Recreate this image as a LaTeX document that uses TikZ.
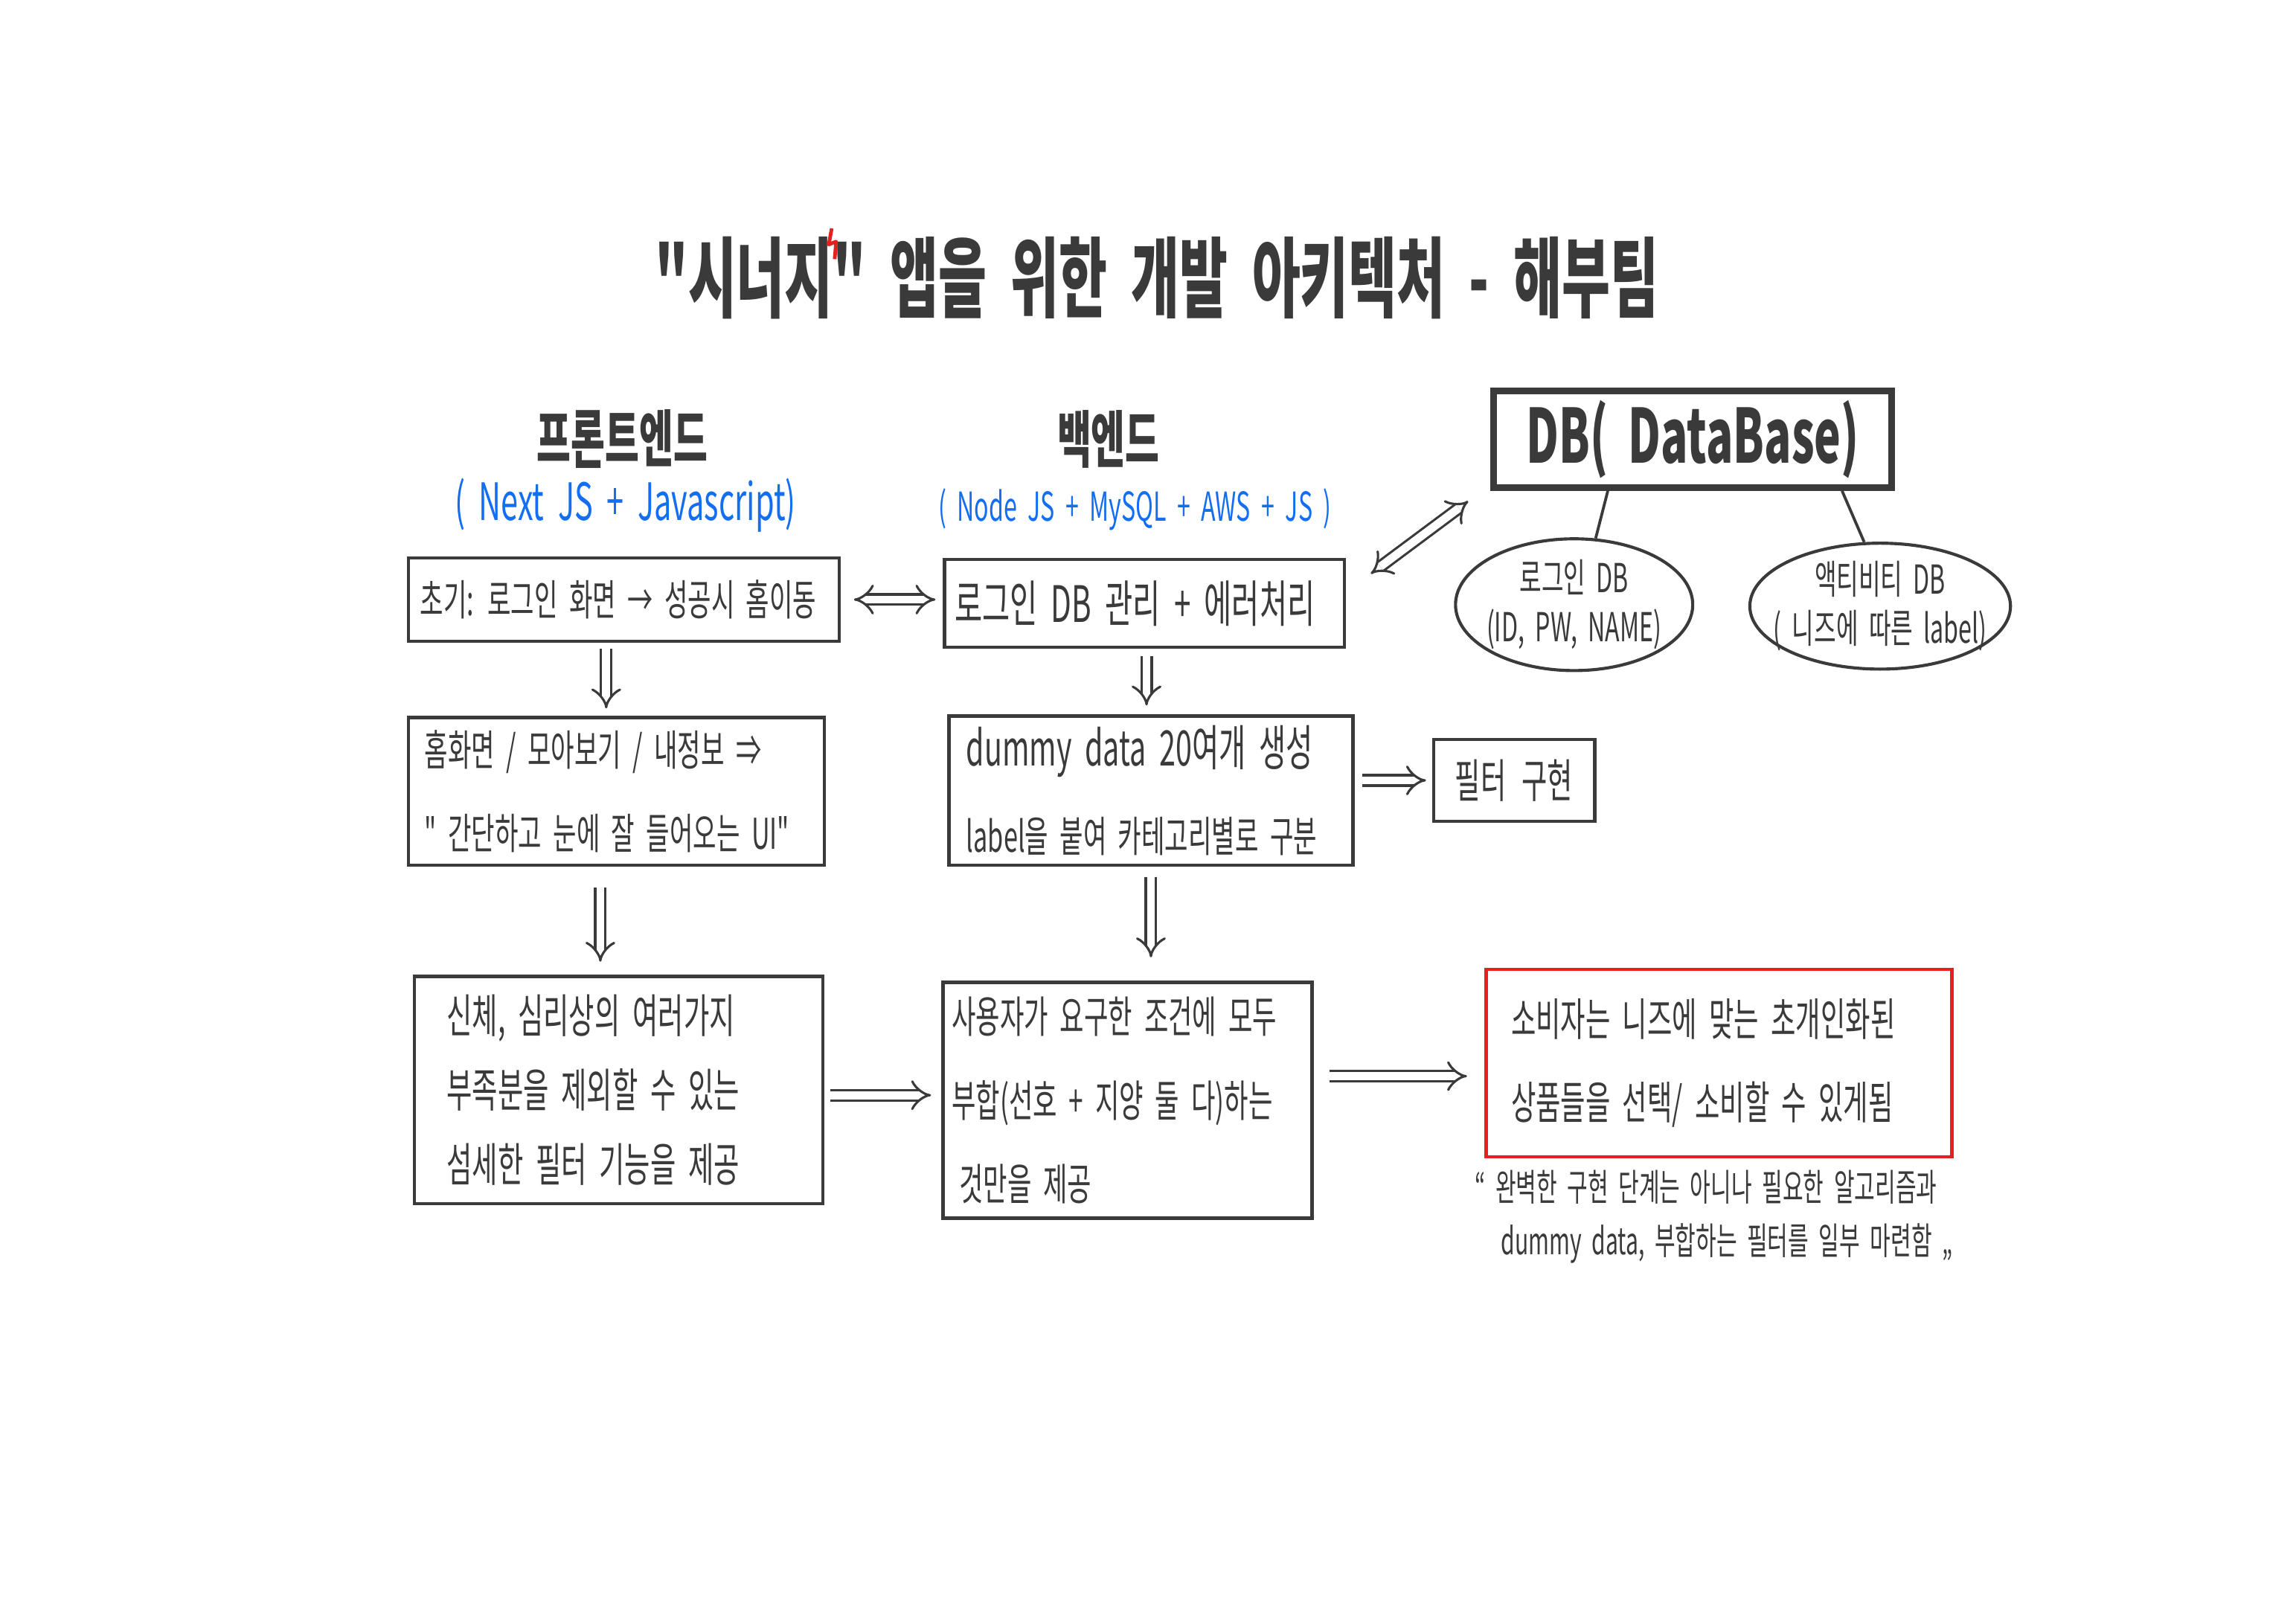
\documentclass[tikz,border=0pt]{standalone}
\usepackage{fontspec}
\usepackage{xcolor}
\usepackage{tikz}
\usetikzlibrary{shapes.geometric, arrows.meta, positioning}
\newfontfamily\kr[FakeStretch=0.6, WordSpace=2]{Noto Sans CJK KR}
\definecolor{ink}{RGB}{58, 58, 58}
\definecolor{techblue}{RGB}{20, 110, 240}
\definecolor{markred}{RGB}{228, 32, 32}

\begin{document}
\begin{tikzpicture}[x=0.2mm, y=-0.2mm,
    box/.style={draw=ink, line width=1.3pt, align=flush left, text=ink,
                font=\kr\fontsize{16.5}{32.5}\selectfont},
    dbcell/.style={draw=ink, ellipse, line width=1.2pt, align=center, inner xsep=-3mm, inner ysep=-1.5mm,
                   text=ink, font=\kr\fontsize{15.5}{19}\selectfont},
    head/.style={text=ink, font=\kr\bfseries\fontsize{24}{28}\selectfont},
    stack/.style={text=techblue},
    dbl/.style={draw=ink, line width=0.9pt, double, double distance=1.1mm, -{Implies}},
    link/.style={draw=ink, line width=1.1pt}
]
    \useasboundingbox (0,0) rectangle (1568,1109);

    % title
    \node[text=ink, font=\kr\bfseries\fontsize{34}{38}\selectfont] (title) at (790,190) {"시너지" 앱을 위한 개발 아키텍처 - 해부팀};
    \draw[markred, line width=1.4pt, line join=round] (568,156) -- (566,167) -- (571,165) -- (570,177);

    % column heads
    \node[head] (front) at (425,300) {프론트엔드};
    \node[stack, font=\kr\fontsize{20}{24}\selectfont] (frontstack) at (427,345) {( Next JS + Javascript)};
    \node[head] (back) at (757,300) {백엔드};
    \node[stack, font=\kr\fontsize{15.5}{20}\selectfont] (backstack) at (775,348) {( Node JS + MySQL + AWS + JS )};

    % database
    \node[draw=ink, line width=2.6pt, minimum width=54.4mm, minimum height=13.2mm, text=ink,
          font=\kr\bfseries\fontsize{29}{32}\selectfont] (db) at (1156,300) {DB( DataBase)};
    \node[dbcell, minimum width=32.4mm, minimum height=18mm] (logindb) at (1075,413) {로그인 DB\\(ID, PW, NAME)};
    \node[dbcell, minimum width=35.6mm, minimum height=17.2mm] (actdb) at (1284,414) {액티비티 DB\\( 니즈에 따른 label)};

    % first row
    \node[box, minimum width=58.8mm, minimum height=11.4mm, inner xsep=1.6mm, text width=55.6mm,
          font=\kr\fontsize{16.5}{20}\selectfont] (init) at (426,409.5) {초기: 로그인 화면 → 성공시 홈이동};
    \node[box, minimum width=54.6mm, minimum height=12mm, inner xsep=1.4mm, text width=51.8mm,
          font=\kr\fontsize{19.5}{20}\selectfont] (login) at (781.5,412) {로그인 DB 관리 + 에러처리};

    % second row
    \node[box, minimum width=56.8mm, minimum height=20.2mm, inner xsep=2.2mm, text width=52.4mm] (home) at (421,540.5)
        {홈화면 / 모아보기 / 내정보 ⇒\\" 간단하고 눈에 잘 들어오는 UI"};
    \node[box, minimum width=55.2mm, minimum height=20.4mm, inner xsep=2.4mm, text width=50.4mm,
          font=\kr\fontsize{16.5}{33.5}\selectfont] (dummy) at (786,540)
        {{\fontsize{19}{33.5}\selectfont dummy data 20여개 생성}\\label을 붙여 카테고리별로 구분};
    \node[box, align=center, minimum width=22mm, minimum height=11.2mm, inner xsep=0pt, text width=22mm,
          font=\kr\fontsize{18}{20}\selectfont] (filter) at (1034,533) {필터 구현};

    % third row
    \node[box, minimum width=55.8mm, minimum height=31mm, inner xsep=4.4mm, text width=47mm,
          font=\kr\fontsize{18}{29}\selectfont] (body) at (422.5,744.5)
        {신체, 심리상의 여러가지\\부족분을 제외할 수 있는\\섬세한 필터 기능을 제공};
    \node[box, minimum width=50.4mm, minimum height=32.2mm, inner xsep=1.2mm, text width=48mm,
          font=\kr\fontsize{17}{32.5}\selectfont] (match) at (770,751.5)
        {사용자가 요구한 조건에 모두\\부합(선호 + 지양 둘 다)하는\\\hspace*{1mm}것만을 제공};
    \node[box, draw=markred, minimum width=63.6mm, minimum height=25.6mm, inner xsep=3.4mm, text width=56.8mm,
          font=\kr\fontsize{17.5}{32.5}\selectfont] (result) at (1174,726)
        {소비자는 니즈에 맞는 초개인화된\\상품들을 선택/ 소비할 수 있게됨};
    \node[text=ink, align=left, anchor=west, font=\kr\fontsize{14.5}{21}\selectfont] (note) at (1001,831)
        {“ 완벽한 구현 단계는 아니나 필요한 알고리즘과\\\hspace*{3.6mm}dummy data, 부합하는 필터를 일부 마련함 „};

    % connectors
    \draw[dbl, {Implies}-{Implies}, shorten <=1.8mm, shorten >=1mm] (init.east) -- (init.east -| login.west);
    \draw[dbl, {Implies}-{Implies}]
        ([xshift=3.4mm, yshift=-2.2mm]login.north east) -- ([xshift=-3mm, yshift=-1.4mm]db.south west);
    \draw[link] ([xshift=-11.6mm]db.south) -- (logindb.72);
    \draw[link] ([xshift=20.4mm]db.south) -- (actdb.104);

    \draw[dbl, shorten <=0.8mm, shorten >=1mm] (init.south -| 414,0) -- (home.north -| 414,0);
    \draw[dbl, shorten <=1mm, shorten >=1.2mm] (login.south -| 783,0) -- (dummy.north -| 783,0);
    \draw[dbl, shorten <=2.8mm, shorten >=1.8mm] (home.south -| 410,0) -- (body.north -| 410,0);
    \draw[dbl, shorten <=1.4mm, shorten >=3.2mm] (dummy.south -| 786,0) -- (match.north -| 786,0);

    \draw[dbl, shorten <=1mm, shorten >=0.8mm] (dummy.east |- filter.west) -- (filter.west);
    \draw[dbl, shorten <=0.8mm, shorten >=1.4mm] (body.east |- 0,748) -- (match.west |- 0,748);
    \draw[dbl, shorten <=2.2mm, shorten >=2.4mm] ([yshift=3.3mm]match.east) -- ([yshift=3.3mm]match.east -| result.west);
\end{tikzpicture}
\end{document}
